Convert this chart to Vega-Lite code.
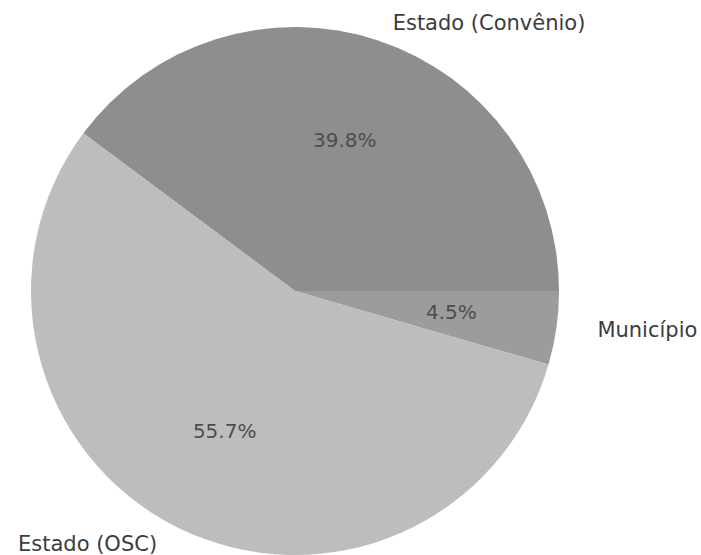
{
  "$schema": "https://vega.github.io/schema/vega-lite/v6.json",
  "width": 590,
  "height": 528,
  "autosize": {"type": "none"},
  "padding": {"left": 0, "top": 27, "right": 111, "bottom": 0},
  "background": "white",
  "config": {"view": {"stroke": null}},
  "data": {
    "values": [
      {"label": "Estado (Convênio)", "value": 39.8, "ord": 1, "pct": "39.8%"},
      {"label": "Município", "value": 4.5, "ord": 2, "pct": "4.5%"},
      {"label": "Estado (OSC)", "value": 55.7, "ord": 3, "pct": "55.7%"}
    ]
  },
  "encoding": {
    "theta": {"field": "value", "type": "quantitative", "stack": true, "scale": {"range": [5.35293, 11.63612]}},
    "order": {"field": "ord", "type": "quantitative"}
  },
  "layer": [
    {
      "mark": {"type": "arc", "outerRadius": 264, "strokeWidth": 0},
      "encoding": {
        "color": {
          "field": "label",
          "type": "nominal",
          "scale": {"domain": ["Estado (Convênio)", "Município", "Estado (OSC)"], "range": ["#8e8e8e", "#9c9c9c", "#bdbdbd"]},
          "legend": null
        }
      }
    },
    {
      "mark": {"type": "text", "radius": 158, "font": "DejaVu Sans", "fontSize": 20, "color": "#4d4d4d", "align": "center", "baseline": "middle"},
      "encoding": {"text": {"field": "pct", "type": "nominal"}}
    },
    {
      "mark": {"type": "text", "radius": 284, "thetaOffset": 0.031, "font": "DejaVu Sans", "fontSize": 21, "color": "#3c3c3c", "align": "left", "baseline": "middle"},
      "encoding": {"text": {"condition": {"test": "datum.ord == 1", "field": "label"}, "value": ""}}
    },
    {
      "mark": {"type": "text", "radius": 305, "thetaOffset": -0.01, "font": "DejaVu Sans", "fontSize": 21, "color": "#3c3c3c", "align": "left", "baseline": "middle"},
      "encoding": {"text": {"condition": {"test": "datum.ord == 2", "field": "label"}, "value": ""}}
    },
    {
      "mark": {"type": "text", "radius": 289, "thetaOffset": 0.036, "font": "DejaVu Sans", "fontSize": 21, "color": "#3c3c3c", "align": "right", "baseline": "middle"},
      "encoding": {"text": {"condition": {"test": "datum.ord == 3", "field": "label"}, "value": ""}}
    }
  ]
}
